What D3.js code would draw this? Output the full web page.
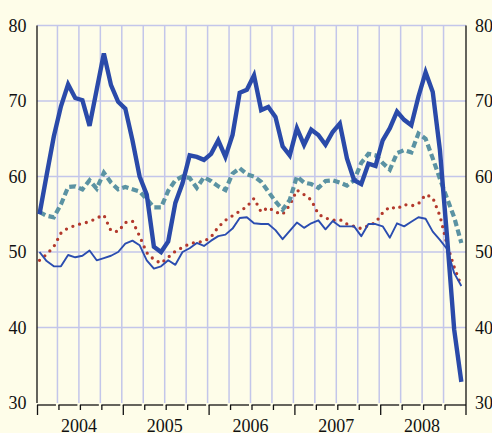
<!DOCTYPE html>
<html><head><meta charset="utf-8">
<script src="https://cdn.jsdelivr.net/npm/d3@7"></script>
<style>
html,body{margin:0;padding:0;background:#fefde9;}
svg{display:block;}
</style></head>
<body>
<svg id="c" width="492" height="433"></svg>
<script>
// Monthly data Jan 2004 – Dec 2008
const years = ["2004","2005","2006","2007","2008"];
const yTicks = [30,40,50,60,70,80];
const seriesThick = [55.0,60.2,65.3,69.3,72.2,70.4,70.1,66.7,71.5,76.3,72.1,69.9,
 69.0,64.8,60.0,57.6,50.7,50.0,51.4,56.5,59.1,62.8,62.6,62.2,
 63.0,64.8,62.6,65.5,71.1,71.5,73.4,68.8,69.2,67.9,64.0,62.8,
 66.4,64.2,66.2,65.5,64.2,65.9,67.0,62.4,59.5,59.0,61.7,61.4,
 64.8,66.4,68.6,67.5,66.8,70.6,73.8,71.2,63.5,52.0,39.7,32.8];
const seriesDashed = [55.3,54.8,54.6,56.3,58.6,58.7,58.3,59.5,58.4,60.5,59.2,58.3,
 58.6,58.3,58.0,57.0,55.9,55.9,58.1,59.5,60.0,59.8,58.5,59.9,
 59.4,58.7,58.2,60.4,61.1,60.3,60.0,59.3,58.0,56.7,55.6,56.9,
 60.0,59.2,59.0,58.5,59.4,59.5,59.2,58.8,59.5,61.8,63.0,62.8,
 61.8,60.9,63.1,63.5,63.2,65.7,65.0,62.4,59.7,57.1,54.6,51.2];
const seriesDotted = [48.9,49.7,50.7,52.5,53.2,53.5,53.8,54.0,54.5,54.9,52.8,52.7,
 53.9,54.1,52.1,49.9,49.0,48.5,49.3,50.1,50.6,51.1,51.3,51.4,
 52.0,53.3,54.2,54.8,55.4,56.0,57.1,55.3,55.9,55.3,55.0,56.2,
 58.2,57.6,56.9,55.0,54.5,54.2,54.3,53.7,53.4,53.1,53.5,53.9,
 55.2,56.0,55.7,56.3,56.1,56.4,57.6,57.2,54.8,51.0,48.0,45.5];
const seriesThin = [50.0,48.8,48.1,48.1,49.6,49.3,49.5,50.2,48.9,49.2,49.5,50.0,
 51.1,51.5,50.9,48.9,47.8,48.1,48.9,48.3,50.0,50.5,51.2,50.8,
 51.5,52.1,52.3,53.1,54.5,54.6,53.8,53.7,53.7,52.9,51.7,52.8,
 53.9,53.2,53.8,54.2,53.0,54.1,53.4,53.4,53.4,52.1,53.7,53.7,
 53.4,51.9,53.8,53.4,54.0,54.6,54.4,52.7,51.6,50.4,47.2,45.5];

const svg = d3.select("#c");
const W = 492, H = 433;
const L = 37, R = 466, T = 25.5, B = 403;
const x = d3.scaleLinear().domain([0, 60]).range([L, R]);
const y = d3.scaleLinear().domain([30, 80]).range([B, T]);
const font = "'Liberation Serif','Times New Roman',serif";

svg.append("rect").attr("width", W).attr("height", H).attr("fill", "#fefde9");

// grid
const gridColor = "#c3c6ea";
svg.append("g").selectAll("line").data(d3.range(3, 60, 3)).join("line")
  .attr("x1", d => x(d) - 1).attr("x2", d => x(d) - 1)
  .attr("y1", T).attr("y2", B)
  .attr("stroke", gridColor).attr("stroke-width", 1.5);
svg.append("g").selectAll("line").data([40,50,60,70,80]).join("line")
  .attr("x1", L).attr("x2", R)
  .attr("y1", d => y(d)).attr("y2", d => y(d))
  .attr("stroke", gridColor).attr("stroke-width", 1.5);

// y axes (labels)
const yl = svg.append("g").attr("transform", `translate(${L},0)`)
  .call(d3.axisLeft(y).tickValues(yTicks).tickSize(0).tickPadding(10.5).tickFormat(d3.format("d")));
yl.select(".domain").remove();
yl.selectAll("text").attr("font-family", font).attr("font-size", 18).attr("fill", "#111");
const yr = svg.append("g").attr("transform", `translate(${R},0)`)
  .call(d3.axisRight(y).tickValues(yTicks).tickSize(0).tickPadding(9).tickFormat(d3.format("d")));
yr.select(".domain").remove();
yr.selectAll("text").attr("font-family", font).attr("font-size", 18).attr("fill", "#111");

// axis frame lines
svg.append("line").attr("x1", L).attr("x2", L).attr("y1", T).attr("y2", B)
  .attr("stroke", "#111").attr("stroke-width", 1.3);
svg.append("line").attr("x1", R).attr("x2", R).attr("y1", T).attr("y2", 415)
  .attr("stroke", "#111").attr("stroke-width", 1.3);

// bottom axis: segmented baseline with quarter ticks
const AX = 405;
svg.append("g").selectAll("line").data(d3.range(0, 60, 3)).join("line")
  .attr("x1", d => x(d)).attr("x2", d => d + 3 >= 60 ? x(60) : x(d + 3) - 2.5)
  .attr("y1", AX).attr("y2", AX)
  .attr("stroke", "#111").attr("stroke-width", 1.3);
const xb = svg.append("g").attr("transform", `translate(0,${AX})`)
  .call(d3.axisBottom(x).tickValues(d3.range(0, 60, 3)).tickSize(5).tickFormat(""));
xb.select(".domain").remove();
xb.selectAll(".tick line").attr("stroke", "#111").attr("stroke-width", 1.3)
  .attr("y2", d => d % 12 === 0 ? 10 : 5);
const xy = svg.append("g").attr("transform", `translate(0,${AX})`)
  .call(d3.axisBottom(x).tickValues(years.map((_, i) => i * 12 + 6)).tickSize(0).tickPadding(14)
    .tickFormat((d, i) => years[i]));
xy.select(".domain").remove();
xy.selectAll("text").attr("font-family", font).attr("font-size", 18).attr("fill", "#111").attr("dx", -1.5);

// lines
const line = d3.line().x((d, i) => x(i + 0.35)).y(d => y(d));
svg.append("path").datum(seriesDotted).attr("d", line)
  .attr("fill", "none").attr("stroke", "#b3392c").attr("stroke-width", 3.3)
  .attr("stroke-linecap", "round").attr("stroke-dasharray", "0,7");
svg.append("path").datum(seriesDashed).attr("d", line)
  .attr("fill", "none").attr("stroke", "#5b93a3").attr("stroke-width", 4.2)
  .attr("stroke-dasharray", "6.5,3.5");
svg.append("path").datum(seriesThin).attr("d", line)
  .attr("fill", "none").attr("stroke", "#2b4db0").attr("stroke-width", 1.9)
  .attr("stroke-linejoin", "round");
svg.append("path").datum(seriesThick).attr("d", line)
  .attr("fill", "none").attr("stroke", "#2a4aa9").attr("stroke-width", 4.4)
  .attr("stroke-linejoin", "miter");
</script>
</body></html>
